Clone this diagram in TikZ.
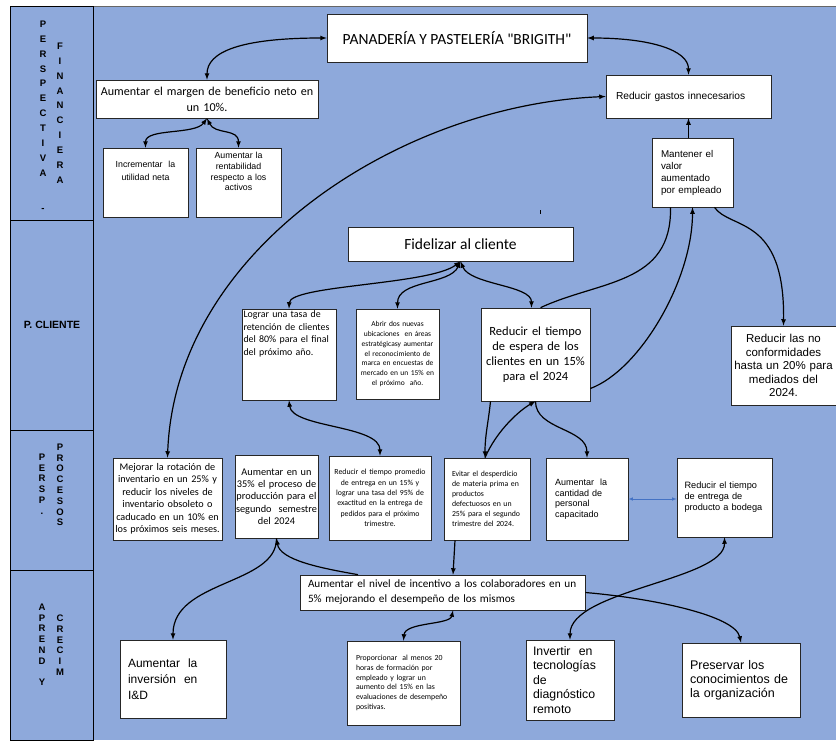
\documentclass[tikz,border=0pt]{standalone}
\usepackage{fontspec}
\setmainfont{Carlito}
\newfontfamily\arialfont{Liberation Sans}
\definecolor{bsc}{RGB}{142,169,219}
\definecolor{linkblue}{RGB}{68,114,196}
\newcommand{\fsz}[2]{\fontsize{#1}{#2}\selectfont}

\begin{document}
\begin{tikzpicture}[x=1pt,y=-1pt,
        box/.style={draw=black!85,fill=white,line width=0.7pt,inner sep=0pt},
        lbl/.style={font=\arialfont\bfseries\fsz{9.5}{10.8},align=center,inner sep=0pt,anchor=north},
        link/.style={line width=1.2pt}]
        \useasboundingbox (0,0) rectangle (836,740);
        \fill[bsc] (93,6) rectangle (836,740);
        \draw[black!60] (93,6) -- (836,6);
        \foreach \ya/\yb in {6/220,220/430,430/570,570/740}
                \draw[fill=bsc,line width=0.8pt] (10,\ya) rectangle (93,\yb);

        \node[lbl,font=\arialfont\bfseries\fsz{9.5}{14.9}] (perspa) at (43,20.6) {P\\E\\R\\S\\P\\E\\C\\T\\I\\V\\A\\[20pt]-};
        \node[lbl,font=\arialfont\bfseries\fsz{9.5}{14.9}] (finan) at (60,42.6) {F\\I\\N\\A\\N\\C\\I\\E\\R\\A};
        \node[font=\arialfont\bfseries\fsz{10.5}{12},inner sep=0pt] (pcli) at (52,325) {P. CLIENTE};
        \node[lbl] (persp) at (42,453.6) {P\\E\\R\\S\\P\\.};
        \node[lbl] (proc) at (60,443.6) {P\\R\\O\\C\\E\\S\\O\\S};
        \node[lbl] (aprend) at (42,603.6) {A\\P\\R\\E\\N\\D\\[10.8pt]Y};
        \node[lbl] (crec) at (60,614.6) {C\\R\\E\\C\\I\\M};

        \node[box,minimum width=260pt,minimum height=48pt,font=\fsz{15.5}{18}] (title) at (457,38) {PANADERÍA Y PASTELERÍA \textquotedbl BRIGITH\textquotedbl};
        \node[box,minimum width=222pt,minimum height=38pt,text width=222pt,align=center,font=\fsz{12.1}{16}] (margin) at (207,99) {Aumentar el margen de beneficio neto en\\un 10\%.};
        \node[box,minimum width=85pt,minimum height=69pt,text width=81pt,align=center,font=\arialfont\fsz{8.8}{13}] (increm) at (145.5,182.5) {Incrementar\ \ la\\utilidad neta\rule[-24pt]{0pt}{24pt}};
        \node[box,minimum width=85pt,minimum height=69pt,text width=81pt,align=center,font=\arialfont\fsz{8.8}{10.8}] (rentab) at (238.5,182.5) {Aumentar la\\rentabilidad\\respecto a los\\activos\rule[-22pt]{0pt}{22pt}};
        \node[box,minimum width=165pt,minimum height=43pt,text width=145pt,align=left,font=\arialfont\fsz{10.2}{12}] (gastos) at (688.5,96.5) {Reducir gastos innecesarios};
        \node[box,minimum width=81pt,minimum height=69pt,text width=63pt,align=left,font=\arialfont\fsz{9.8}{12}] (manten) at (692.5,172.5) {Mantener el\\valor\\aumentado\\por empleado};

        \node[box,minimum width=225pt,minimum height=34pt,font=\fsz{15.5}{18}] (fideliz) at (460.5,244) {Fidelizar al cliente};
        \node[box,minimum width=94pt,minimum height=91pt,text width=91pt,align=left,font=\fsz{9.9}{12.6}] (lograr) at (289,354.5) {Lograr una tasa de\\retención de clientes\\del 80\% para el final\\del próximo año.\rule[-43pt]{0pt}{43pt}};
        \node[box,minimum width=83pt,minimum height=90pt,text width=81pt,align=center,font=\fsz{7.5}{9.8}] (abrir) at (397.5,354) {Abrir dos nuevas\\ubicaciones\ \ en áreas\\estratégicasy aumentar\\el reconocimiento de\\marca en encuestas de\\mercado en un 15\% en\\el próximo\ \ año.};
        \node[box,minimum width=109pt,minimum height=93pt,text width=103pt,align=center,font=\fsz{12.5}{15.2}] (espera) at (535.5,354.5) {Reducir el tiempo\\de espera de los\\clientes en un 15\%\\para el 2024};
        \node[box,minimum width=105pt,minimum height=79pt,text width=101pt,align=center,font=\arialfont\fsz{11.5}{13.5}] (noconf) at (783.5,365.5) {Reducir las no\\conformidades\\hasta un 20\% para\\mediados del\\2024.};

        \node[box,minimum width=109pt,minimum height=82pt,text width=105pt,align=center,font=\fsz{10.2}{12.5}] (mejorar) at (167.5,499) {Mejorar la rotación de\\inventario en un 25\% y\\reducir los niveles de\\inventario obsoleto o\\caducado en un 10\% en\\los próximos seis meses.};
        \node[box,minimum width=83pt,minimum height=83pt,text width=81pt,align=center,font=\fsz{10.3}{12.3}] (aum35) at (276.5,496.5) {Aumentar en un\\35\% el proceso de\\producción para el\\segundo\ \ semestre\\del 2024};
        \node[box,minimum width=102pt,minimum height=84pt,text width=98pt,align=center,font=\fsz{7.8}{10.4}] (promedio) at (380,498) {Reducir el tiempo promedio\\de entrega en un 15\% y\\lograr una tasa del 95\% de\\exactitud en la entrega de\\pedidos para el próximo\\trimestre.};
        \node[box,minimum width=86pt,minimum height=82pt,text width=70pt,align=left,font=\fsz{7.8}{10}] (evitar) at (487,499) {Evitar el desperdicio\\de materia prima en\\productos\\defectuosos en un\\25\% para el segundo\\trimestre del 2024.};
        \node[box,minimum width=82pt,minimum height=82pt,text width=64pt,align=left,font=\arialfont\fsz{9}{10.5}] (cantidad) at (587,499) {Aumentar\ \ la\\cantidad de\\personal\\capacitado};
        \node[box,minimum width=95pt,minimum height=79pt,text width=80pt,align=left,font=\arialfont\fsz{9.2}{11}] (bodega) at (724.5,497.5) {Reducir el tiempo\\de entrega de\\producto a bodega};

        \node[box,minimum width=285pt,minimum height=35pt,text width=269pt,align=left,font=\fsz{11.2}{15}] (incent) at (442.5,592.5) {Aumentar el nivel de incentivo a los colaboradores en un\\5\% mejorando el desempeño de los mismos};
        \node[box,minimum width=106pt,minimum height=78pt,text width=90pt,align=left,font=\arialfont\fsz{12}{16}] (inversion) at (173,679) {Aumentar\ \ la\\inversión\ \ en\\I\&D};
        \node[box,minimum width=113pt,minimum height=84pt,text width=95pt,align=left,font=\fsz{7.8}{9.8}] (proporc) at (403.5,683) {Proporcionar\ \ al menos 20\\horas de formación por\\empleado y lograr un\\aumento del 15\% en las\\evaluaciones de desempeño\\positivas.};
        \node[box,minimum width=88pt,minimum height=80pt,text width=74pt,align=left,font=\arialfont\fsz{12.3}{14.5}] (invertir) at (570,680) {Invertir\ \ en\\tecnologías\\de\\diagnóstico\\remoto};
        \node[box,minimum width=118pt,minimum height=74pt,text width=102pt,align=left,font=\arialfont\fsz{12.5}{14}] (preservar) at (741,680) {Preservar los\\conocimientos de\\la organización};

        \draw[link,latex-latex] (title.west) .. controls (240,38) and (207,52) .. (margin.north);
        \draw[link,latex-latex] (title.east) .. controls (650,38) and (688.5,50) .. (gastos.north);
        \draw[link,latex-latex] (margin.south) .. controls (195,135) and (145.5,128) .. (increm.north);
        \draw[link,latex-latex] (margin.south) .. controls (215,135) and (238.5,128) .. (rentab.north);
        \draw[link,latex-latex] (mejorar.north) .. controls (175,250) and (400,105) .. (gastos.west);
        \draw[link,-latex] (gastos.south |- manten.north) -- (gastos.south);
        \draw[link] ([xshift=-22pt]manten.south) .. controls (672,285) and (600,280) .. ([xshift=5pt]espera.north);
        \draw[link,-latex] ([yshift=-34pt]espera.east) .. controls (640,370) and (692.5,280) .. (manten.south);
        \draw[link,-latex] ([xshift=22pt]manten.south) .. controls (730,230) and (785,215) .. (noconf.north);
        \draw[link,latex-latex] (fideliz.south) .. controls (430,285) and (290,285) .. (lograr.north);
        \draw[link,latex-latex] (fideliz.south) .. controls (450,285) and (397.5,280) .. (abrir.north);
        \draw[link,latex-latex] (fideliz.south) .. controls (470,285) and (531.5,285) .. ([xshift=-4pt]espera.north);
        \draw[link,latex-latex] (lograr.south) .. controls (292,428) and (380,425) .. (promedio.north);
        \draw[link,-latex] ([xshift=-45pt]espera.south) .. controls (488,425) and (485,435) .. ([xshift=-2pt]evitar.north);
        \draw[link,-latex] ([xshift=-2pt]evitar.north) .. controls (497,430) and (520,410) .. (espera.south);
        \draw[link,-latex] (espera.south) .. controls (535.5,430) and (587,428) .. (cantidad.north);
        \draw[latex-latex,linkblue,line width=0.6pt] (cantidad.east) -- (cantidad.east -| bodega.west);
        \draw[link,-latex] ([xshift=-32pt]evitar.south) -- ([xshift=10.5pt]incent.north);
        \draw[link,-latex] ([xshift=-84.5pt]incent.north) .. controls (320,568) and (280,560) .. (aum35.south);
        \draw[link,-latex] (aum35.south) .. controls (277,585) and (173,580) .. (inversion.north);
        \draw[link,latex-latex] ([xshift=10.5pt]incent.south) .. controls (450,625) and (405,622) .. (proporc.north);
        \draw[link,latex-latex] (bodega.south) .. controls (725,580) and (570,590) .. (invertir.north);
        \draw[link,-latex] (incent.east) .. controls (650,598) and (735,615) .. (preservar.north);
        \draw (540,210) -- (540,214);
\end{tikzpicture}
\end{document}
